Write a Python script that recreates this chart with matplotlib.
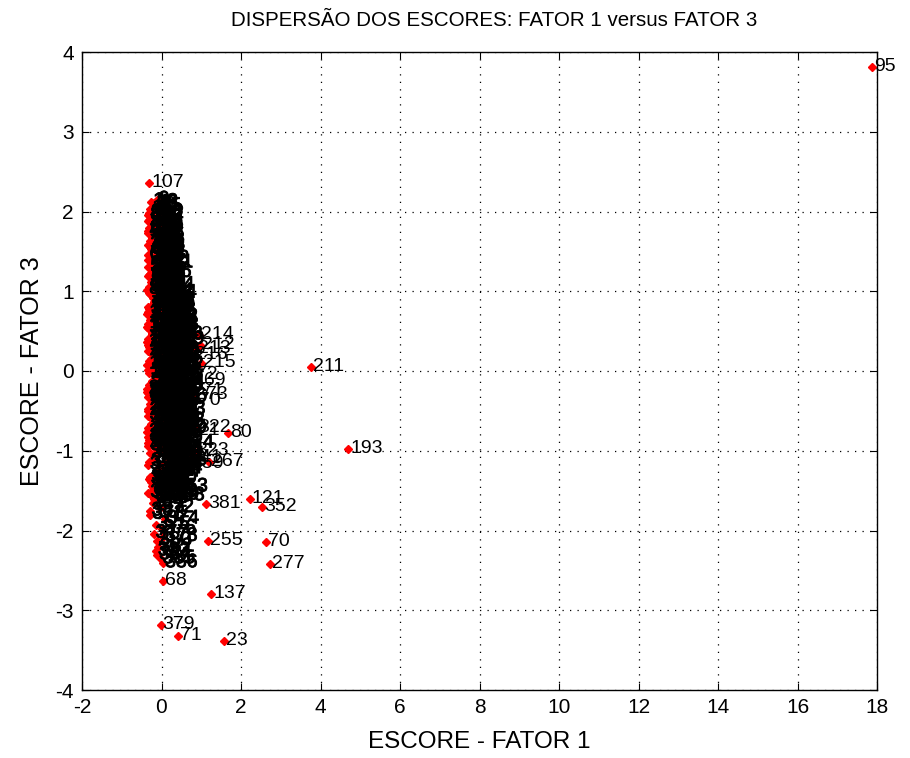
import matplotlib
matplotlib.use("Agg")
import matplotlib.pyplot as plt
import matplotlib.patheffects as pe
import numpy as np

plt.rcParams["font.family"] = ["Liberation Sans", "DejaVu Sans"]
plt.rcParams["axes.unicode_minus"] = False

# isolated observations (label -> score pair)
outlier_labels = [23, 68, 70, 71, 80, 95, 107, 121, 137, 193, 211, 255, 267, 277, 352, 379, 381]
outlier_x = [1.57, 0.04, 2.62, 0.42, 1.67, 17.87, -0.31, 2.22, 1.25, 4.70, 3.77, 1.18, 1.20, 2.74, 2.54, -0.02, 1.12]
outlier_y = [-3.38, -2.63, -2.14, -3.32, -0.78, 3.81, 2.36, -1.60, -2.79, -0.98, 0.05, -2.13, -1.14, -2.42, -1.71, -3.18, -1.67]

n_obs = 387

# dense cluster around the origin (estimated from the figure)
cluster_x = [
    -0.26, -0.08, -0.31, -0.14, -0.03, -0.21, -0.05, -0.33, -0.12, -0.07,
    -0.28, -0.03, -0.18, -0.24, -0.10, -0.05, -0.30, -0.17, -0.19, -0.07,
    -0.35, -0.04, -0.19, -0.10, -0.30, -0.01, -0.15, -0.24, -0.06, -0.33,
    -0.13, -0.03, -0.27, -0.17, -0.07, -0.31, 0.00, -0.21, -0.12, -0.05,
    -0.35, -0.23, -0.09, -0.16, -0.02, -0.28, -0.05, -0.19, -0.32, -0.11,
    -0.03, -0.25, -0.14, -0.07, -0.34,
    -0.10, -0.33, 0.00, -0.17, -0.26, -0.05, -0.35, -0.07, -0.21, -0.02,
    -0.30, -0.12, 0.02, -0.24, -0.06, -0.34, -0.03, -0.14, -0.01, -0.28,
    -0.19, -0.08, -0.31, 0.01, -0.22, -0.10, -0.36, -0.04, -0.16, -0.25,
    0.00, -0.29, -0.09, -0.19, -0.05, -0.32, -0.13, -0.03, -0.26, -0.07,
    -0.35, -0.17, -0.04, -0.23, -0.11,
    -0.31, -0.03, -0.15, 0.04, -0.34, -0.09, -0.24, -0.05, 0.06, -0.19,
    -0.36, 0.00, -0.12, -0.28, -0.07, 0.02, -0.21, -0.33, -0.04, -0.10,
    -0.26, 0.01, -0.17, 0.05, -0.30, -0.07, -0.35, -0.02, -0.14, 0.03,
    -0.22, -0.05, -0.32, 0.07, -0.18, -0.10, -0.28, -0.01, -0.37, -0.06,
    0.02, -0.20, -0.03, -0.25, -0.12, 0.04, -0.33, -0.08, -0.16, 0.00,
    -0.07, -0.35, 0.04, -0.19, 0.11, -0.28, -0.01, -0.14, 0.17, -0.36,
    -0.05, -0.24, 0.08, -0.31, -0.10, 0.14, -0.17, 0.02, -0.26, 0.21,
    -0.33, -0.03, -0.21, 0.09, -0.12, -0.37, 0.06, -0.06, -0.30, 0.00,
    -0.18, 0.16, -0.25, -0.08, -0.34, 0.03, -0.15, 0.12, -0.03, -0.27,
    -0.21, 0.07, -0.35, -0.10, 0.18, -0.24, -0.05, -0.31, 0.02, -0.13,
    0.97, 0.88, 0.94, 1.00, 0.78,
    -0.32, 0.02, -0.16, 0.14, -0.26, -0.05, -0.35, 0.08, -0.20, -0.09,
    0.20, -0.29, -0.01, -0.12, -0.34, 0.04, 0.24, -0.23, -0.07, -0.37,
    0.11, -0.18, -0.03, -0.31, 0.16, -0.14, 0.03, -0.28, -0.10, 0.28,
    -0.21, 0.07, -0.33, -0.04, -0.17, 0.13, -0.25, 0.00, -0.36, -0.08,
    0.09, -0.19, 0.18, -0.30, -0.06, -0.13, 0.22, -0.24, -0.02, -0.35,
    0.75, 0.62, 0.70, 0.55, 0.80,
    -0.05, -0.33, 0.06, -0.21, 0.17, -0.13, -0.36, 0.01, -0.26, 0.12,
    -0.10, -0.30, -0.03, 0.22, -0.17, 0.09, -0.35, -0.07, -0.24, 0.04,
    0.15, -0.15, -0.31, -0.01, 0.27, -0.19, 0.10, -0.28, -0.09, 0.19,
    -0.35, 0.02, -0.12, 0.07, -0.25, -0.04, 0.14, -0.33, -0.06, -0.22,
    0.05, -0.29, 0.24, -0.17, 0.00, -0.35, 0.60, 0.88, 0.82, 0.45,
    -0.28, 0.00, -0.17, 0.14, -0.32, -0.08, 0.25, -0.22, 0.04, -0.34,
    -0.04, -0.12, 0.18, -0.26, 0.09, -0.19, 0.64, -0.30, -0.02, -0.07,
    -0.24, 0.11, -0.14, 0.22, -0.31, 0.02, -0.20, 0.30, 0.16, -0.27,
    -0.10, 0.07, -0.33, 0.70, -0.15, 0.21, -0.05, -0.24, 0.12, -0.18,
    0.28, -0.29, -0.01, 0.08, -0.21,
    -0.22, -0.05, -0.28, 0.08, -0.15, 0.00, -0.20, 0.04, -0.12, -0.09,
    -0.14, -0.11, -0.02, 0.04, -0.30,
]
cluster_y = [
    2.12, 2.05, 1.98, 2.10, 1.93, 2.01, 2.08, 1.95, 2.14, 1.91,
    2.03, 1.97, 2.11, 1.92, 2.06, 1.99, 1.94, 2.09, 2.02, 1.96,
    1.88, 1.72, 1.55, 1.81, 1.63, 1.51, 1.77, 1.69, 1.85, 1.58,
    1.74, 1.66, 1.53, 1.83, 1.61, 1.79, 1.57, 1.87, 1.68, 1.52,
    1.75, 1.64, 1.84, 1.59, 1.71, 1.56, 1.80, 1.62, 1.89, 1.54,
    1.76, 1.67, 1.82, 1.60, 1.73,
    1.48, 1.31, 1.12, 1.41, 1.03, 1.27, 1.45, 1.18, 1.36, 1.08,
    1.22, 1.49, 1.15, 1.33, 1.01, 1.39, 1.25, 1.10, 1.44, 1.29,
    1.06, 1.37, 1.20, 1.47, 1.13, 1.34, 1.02, 1.42, 1.24, 1.16,
    1.30, 1.46, 1.09, 1.38, 1.21, 1.05, 1.43, 1.27, 1.11, 1.35,
    1.19, 1.40, 1.07, 1.32, 1.23,
    0.98, 0.83, 0.61, 0.92, 0.54, 0.77, 0.69, 0.95, 0.58, 0.86,
    0.72, 0.51, 0.89, 0.64, 0.79, 0.97, 0.56, 0.74, 0.88, 0.62,
    0.81, 0.53, 0.93, 0.67, 0.76, 0.99, 0.59, 0.84, 0.71, 0.52,
    0.91, 0.66, 0.78, 0.57, 0.87, 0.63, 0.96, 0.73, 0.55, 0.82,
    0.68, 0.94, 0.60, 0.75, 0.90, 0.65, 0.80, 0.50, 0.85, 0.70,
    0.47, 0.32, 0.11, 0.41, 0.03, 0.26, 0.38, 0.17, 0.45, 0.08,
    0.29, 0.21, 0.49, 0.13, 0.35, 0.06, 0.43, 0.24, 0.15, 0.39,
    0.01, 0.31, 0.46, 0.19, 0.09, 0.36, 0.27, 0.44, 0.12, 0.33,
    0.04, 0.22, 0.48, 0.16, 0.40, 0.07, 0.28, 0.18, 0.42, 0.10,
    0.34, 0.02, 0.25, 0.37, 0.14, 0.46, 0.20, 0.30, 0.05, 0.44,
    0.33, 0.27, 0.45, 0.10, 0.20,
    -0.03, -0.21, -0.42, -0.11, -0.35, -0.06, -0.28, -0.47, -0.16, -0.38,
    -0.09, -0.25, -0.44, -0.01, -0.32, -0.19, -0.49, -0.13, -0.40, -0.23,
    -0.05, -0.30, -0.45, -0.17, -0.36, -0.08, -0.27, -0.41, -0.14, -0.33,
    -0.02, -0.22, -0.48, -0.10, -0.39, -0.18, -0.31, -0.04, -0.26, -0.43,
    -0.12, -0.37, -0.20, -0.46, -0.07, -0.29, -0.15, -0.34, -0.24, -0.50,
    -0.12, -0.38, -0.25, -0.05, -0.30,
    -0.53, -0.71, -0.92, -0.61, -0.84, -0.57, -0.77, -0.98, -0.66, -0.88,
    -0.51, -0.74, -0.95, -0.63, -0.81, -0.58, -0.90, -0.69, -0.55, -0.79,
    -0.97, -0.64, -0.86, -0.52, -0.73, -0.93, -0.60, -0.82, -0.68, -0.99,
    -0.56, -0.76, -0.89, -0.62, -0.85, -0.54, -0.70, -0.94, -0.65, -0.80,
    -0.59, -0.87, -0.72, -0.96, -0.67, -0.83, -0.75, -0.72, -1.00, -0.91,
    -1.03, -1.24, -1.47, -1.12, -1.36, -1.58, -1.07, -1.30, -1.52, -1.18,
    -1.41, -1.01, -1.27, -1.55, -1.15, -1.38, -1.09, -1.33, -1.49, -1.21,
    -1.44, -1.05, -1.29, -1.57, -1.14, -1.35, -1.10, -1.46, -1.23, -1.39,
    -1.02, -1.26, -1.53, -1.17, -1.42, -1.08, -1.32, -1.50, -1.20, -1.60,
    -1.13, -1.37, -1.25, -1.56, -1.45,
    -1.65, -1.72, -1.80, -1.86, -1.93, -1.98, -2.04, -2.08, -2.13, -2.21,
    -2.26, -2.31, -2.36, -2.41, -1.76,
]

cluster_labels = [n for n in range(1, n_obs + 1) if n not in outlier_labels]
assert len(cluster_x) == len(cluster_y) == len(cluster_labels)

xs = np.array(cluster_x + outlier_x)
ys = np.array(cluster_y + outlier_y)
labels = cluster_labels + outlier_labels

fig = plt.figure(figsize=(9.1, 7.58), dpi=100)
ax = fig.add_axes([82 / 910, 68 / 758, 795 / 910, 638 / 758])

ax.plot(xs, ys, "D", color="red", ms=4.2, mec="red", zorder=2)
# the packed labels of the main cloud merge into a solid black mass in the
# original; a light stroke on those only keeps isolated labels regular
stroke = [pe.withStroke(linewidth=0.6, foreground="black")]
for x, y, lab in zip(xs, ys, labels):
    in_cloud = x < 0.5 and -2.5 < y < 2.2
    ax.annotate(str(lab), (x, y), xytext=(2, -4), textcoords="offset pixels",
                fontsize=14, va="baseline", ha="left", color="black", zorder=3,
                path_effects=stroke if in_cloud else None)

ax.set_xlim(-2, 18)
ax.set_ylim(-4, 4)
ax.set_xticks(np.arange(-2, 19, 2))
ax.set_yticks(np.arange(-4, 5, 1))
ax.grid(True, color="black", linestyle=(0, (1, 5)), linewidth=0.9)
ax.tick_params(direction="in", top=True, right=True, length=5, labelsize=15, pad=6)
for s in ax.spines.values():
    s.set_linewidth(1.0)

ax.set_xlabel("ESCORE - FATOR 1", fontsize=17.5, labelpad=10)
ax.set_ylabel("ESCORE - FATOR 3", fontsize=18, labelpad=8)
ax.set_title("DISPERSÃO DOS ESCORES: FATOR 1 versus FATOR 3", fontsize=14.8, pad=19, x=0.519)

fig.savefig("out.png", dpi=100)
